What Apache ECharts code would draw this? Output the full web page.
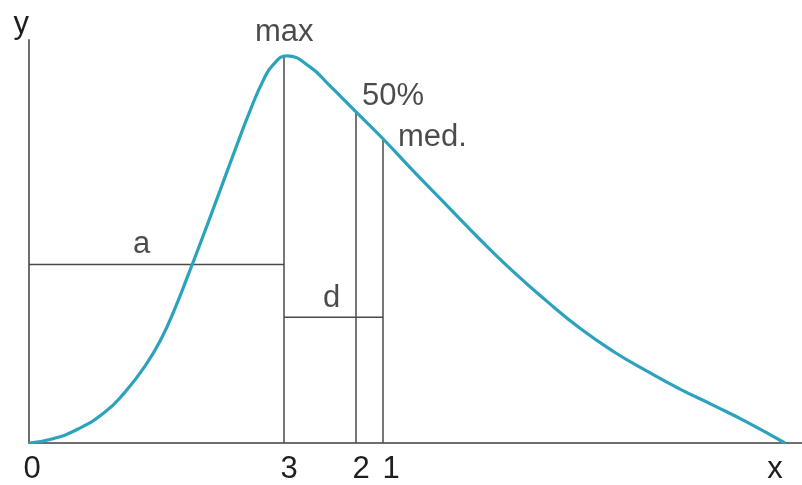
<!DOCTYPE html>
<html>
<head>
<meta charset="utf-8">
<script src="https://cdn.jsdelivr.net/npm/echarts@6/dist/echarts.min.js"></script>
<style>
  html, body { margin: 0; padding: 0; background: #fff; }
  #chart { width: 802px; height: 485px; }
</style>
</head>
<body>
<div id="chart"></div>
<script>
// distribution curve (x from the y axis, y up from the x axis)
const curveX = [0, 23, 49, 76, 96, 116, 133, 146, 159, 172, 191, 208, 221, 234, 244, 258, 281, 301, 326, 353, 384, 418, 451, 484, 518, 551, 584, 618, 651, 684, 718, 756];
const curveY = [0, 4, 14, 31, 51, 77, 106, 135, 168, 202, 253, 299, 333, 363, 379, 388, 377, 358, 333, 306, 273, 238, 204, 172, 142, 115, 92, 72, 54, 38, 21, 0];

// guide segments: [x1, y1, x2, y2]
const guides = [
  [255, 0, 255, 387],   // max
  [327, 0, 327, 332],   // 50%
  [354, 0, 354, 305],   // med.
  [0, 179, 255, 179],   // a
  [255, 126, 354, 126]  // d
];

// text notes: [x, y, text]
const notes = [
  [226, 396, 'max'],
  [333, 332, '50%'],
  [369, 291, 'med.'],
  [104, 183, 'a'],
  [294, 129, 'd']
];

// x axis tick labels
const tickPos = [3, 260, 332, 362, 746];
const tickText = ['0', '3', '2', '1', 'x'];

const chart = echarts.init(document.getElementById('chart'));

const guideSeries = guides.map(function (g) {
  return {
    type: 'line',
    data: [[g[0], g[1]], [g[2], g[3]]],
    symbol: 'none',
    silent: true,
    lineStyle: { color: '#4a4a4a', width: 1.5 },
    z: 2
  };
});

const option = {
  animation: false,
  grid: { left: 29, right: 0, top: 40, bottom: 41 },
  xAxis: {
    type: 'value',
    min: 0,
    max: 773,
    splitLine: { show: false },
    axisTick: { show: false },
    axisLine: { lineStyle: { color: '#6e6e6e', width: 2 } },
    axisLabel: {
      customValues: tickPos,
      formatter: function (v) {
        const i = tickPos.indexOf(v);
        return i < 0 ? '' : tickText[i];
      },
      margin: 11,
      color: '#1e1e1e',
      fontSize: 31,
      fontFamily: 'Liberation Sans'
    }
  },
  yAxis: {
    type: 'value',
    min: 0,
    max: 404,
    name: 'y',
    nameLocation: 'end',
    nameGap: 0,
    nameTextStyle: {
      color: '#1e1e1e',
      fontSize: 31,
      fontFamily: 'Liberation Sans',
      align: 'right'
    },
    splitLine: { show: false },
    axisTick: { show: false },
    axisLabel: { show: false },
    axisLine: { show: true, lineStyle: { color: '#6e6e6e', width: 2 } }
  },
  series: guideSeries.concat([
    {
      type: 'line',
      data: curveX.map(function (x, i) { return [x, curveY[i]]; }),
      smooth: 0.5,
      symbol: 'none',
      lineStyle: { color: '#2ba3bd', width: 3.2 },
      z: 3
    },
    {
      type: 'scatter',
      data: notes,
      symbolSize: 0,
      silent: true,
      label: {
        show: true,
        position: 'inside',
        align: 'left',
        verticalAlign: 'bottom',
        formatter: function (p) { return p.data[2]; },
        color: '#1e1e1e',
        fontSize: 31,
        fontFamily: 'Liberation Sans'
      },
      z: 4
    }
  ])
};

chart.setOption(option);
</script>
</body>
</html>
